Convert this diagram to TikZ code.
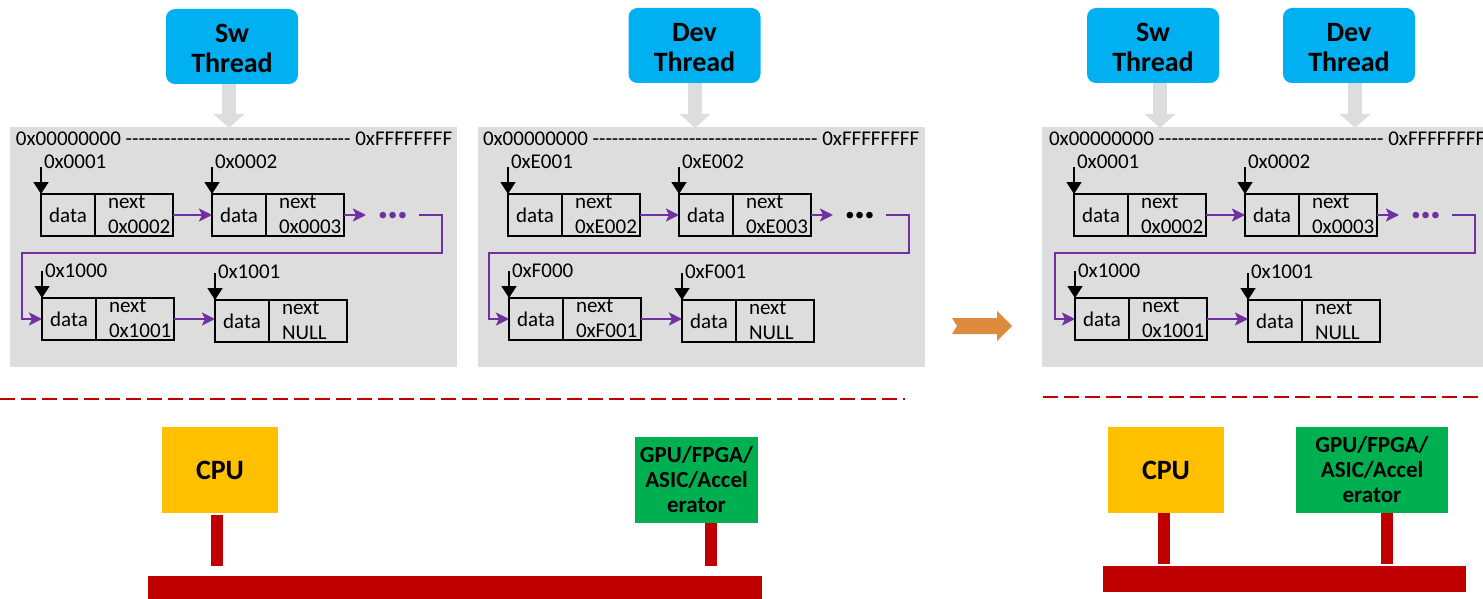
\documentclass[tikz,border=0pt]{standalone}
\usepackage{fontspec}
\setmainfont{Carlito}[Ligatures=TeXOff]
\usetikzlibrary{arrows.meta,calc}

\definecolor{panelgray}{HTML}{DDDDDD}
\definecolor{threadblue}{HTML}{00B0F0}
\definecolor{linkpurple}{HTML}{7030A0}
\definecolor{busred}{HTML}{C00000}
\definecolor{cpuyellow}{HTML}{FFC000}
\definecolor{accgreen}{HTML}{00B050}
\definecolor{steporange}{HTML}{DD8C3E}

\newcommand\txtfont{\fontsize{21}{25}\selectfont}
\newcommand\threadfont{\fontsize{28}{30}\selectfont\bfseries}
\newcommand\cpufont{\fontsize{28}{30}\selectfont\bfseries}
\newcommand\accfont{\fontsize{23}{25}\selectfont\bfseries}
\newcommand\ellfont{\fontsize{44}{44}\selectfont\bfseries}

\tikzset{
  x=1pt, y=-1pt,
  txt/.style={font=\txtfont, inner sep=0pt, outer sep=0pt},
  cell/.style={draw=black, line width=1.8pt, minimum height=42pt, inner sep=0pt, outer sep=0pt, font=\txtfont},
  addr/.style={draw=black, line width=1.8pt, -{Triangle[length=12pt,width=15pt]}},
  link/.style={draw=linkpurple, line width=2.4pt},
  linkarrow/.style={link, -{Stealth[length=13pt,width=13pt,inset=3pt]}},
  panel/.style={fill=panelgray, inner sep=0pt, outer sep=0pt, anchor=north west},
  thread/.style={fill=threadblue, rounded corners=9pt, minimum width=132pt, minimum height=75pt,
                 align=center, font=\threadfont, inner sep=0pt, text height=53pt, text depth=0pt},
  feed/.style={draw=panelgray, line width=14pt, -{Triangle[length=14pt,width=30pt]}},
  unit/.style={inner sep=0pt, outer sep=0pt, align=center},
  stem/.style={draw=busred, line width=12pt},
  bus/.style={fill=busred, inner sep=0pt, outer sep=0pt},
  sep/.style={draw=busred, line width=2.2pt, dash pattern=on 15pt off 6pt},
}

% one list element: data cell, next cell, address label and pointer
% #1 name, #2 x, #3 y (top), #4 address, #5 next value, #6 label gap
\newcommand\cellpair[6]{%
  \node[cell, minimum width=54pt, anchor=north west] (#1d) at (#2,#3) {data};
  \node[cell, minimum width=78pt, anchor=north west] (#1n) at (#1d.north east) {};
  \node[txt, anchor=base west] (#1t) at ($(#1n.north west)+(13,14)$) {next};
  \node[txt, anchor=base west] (#1v) at ($(#1n.north west)+(13,39)$) {#5};
  \node[txt, anchor=base west] (#1l) at ($(#1d.north west)+(3,-#6)$) {#4};
  \coordinate (#1p) at ($(#1d.north west)+(0,-27)$);
  \draw[addr] (#1p) -- (#1d.north west);
}

% a linked list in one address space
% #1 prefix, #2 x of first element, #3 ellipsis colour,
% #4 addr A, #5 addr B, #6 next of B, #7 addr C, #8 addr D
\newcommand\memlist[8]{%
  \node[txt, anchor=base west] (#1h) at (#2-25,146)
    {0x00000000 ----------------------------------- 0xFFFFFFFF};
  \cellpair{#1A}{#2}{194}{#4}{#5}{26}
  \cellpair{#1B}{#2+171}{194}{#5}{#6}{26}
  \cellpair{#1C}{#2+1}{298}{#7}{#8}{21}
  \cellpair{#1D}{#2+174}{300}{#8}{NULL}{22}
  \node[inner sep=0pt, font=\ellfont, text=#3] (#1dots) at (#2+352,216) {…};
  \coordinate (#1tip) at (#2+325,215);
  \coordinate (#1s) at (#2+378,215);
  \coordinate (#1r) at (#2+401,253);
  \coordinate (#1lp) at (#2-19,253);
  \draw[linkarrow] (#1An.east) -- (#1Bd.west);
  \draw[linkarrow] (#1Bn.east) -- (#1tip);
  \draw[linkarrow] (#1s) -| (#1r) -- (#1lp) |- (#1Cd.west);
  \draw[linkarrow] (#1Cn.east) -- (#1Cn.east -| #1Dd.west);
}

\begin{document}
\begin{tikzpicture}
\useasboundingbox (0,0) rectangle (1483,599);

% address-space panels
\node[panel, minimum width=447pt, minimum height=240pt] (p1) at (10,127) {};
\node[panel, minimum width=447pt, minimum height=240pt] (p2) at (478,127) {};
\node[panel, minimum width=441pt, minimum height=240pt] (p3) at (1042,127) {};

% threads
\node[thread] (sw1)  at (232,46.5) {Sw\\Thread};
\node[thread] (dev1) at (694.5,45.5) {Dev\\Thread};
\node[thread] (sw2)  at (1153,45.5) {Sw\\Thread};
\node[thread] (dev2) at (1349,45.5) {Dev\\Thread};

\draw[feed] ($(sw1.south)+(-3,0)$) -- ($(sw1.south |- p1.north)+(-3,1)$);
\draw[feed] ($(dev1.south)+(0.5,0)$) -- ($(dev1.south |- p2.north)+(0.5,1)$);
\draw[feed] ($(sw2.south)+(7,0)$) -- ($(sw2.south |- p3.north)+(7,1)$);
\draw[feed] ($(dev2.south)+(6,0)$) -- ($(dev2.south |- p3.north)+(6,1)$);

% linked lists
\memlist{pa}{41}{linkpurple}{0x0001}{0x0002}{0x0003}{0x1000}{0x1001}
\memlist{pb}{508}{black}{0xE001}{0xE002}{0xE003}{0xF000}{0xF001}
\memlist{pc}{1074}{linkpurple}{0x0001}{0x0002}{0x0003}{0x1000}{0x1001}

% transition arrow
\fill[steporange] (952,318) -- (997,318) -- (997,311) -- (1012,326) -- (997,341)
  -- (997,334) -- (952,334) -- (957,326) -- cycle;

% hardware / software boundary
\coordinate (sepa) at (0,399);
\coordinate (sepb) at (905,399);
\coordinate (sepc) at (1043,397);
\coordinate (sepd) at (1483,397);
\draw[sep] (sepa) -- (sepb);
\draw[sep] (sepc) -- (sepd);

% hardware, left system
\node[unit, fill=cpuyellow, minimum width=116pt, minimum height=86pt, font=\cpufont] (cpu1) at (220,470) {CPU};
\node[unit, fill=accgreen, minimum width=123pt, minimum height=86pt, font=\accfont] (acc1) at (696.5,480) {GPU/FPGA/\\ASIC/Accel\\erator};
\node[bus, minimum width=614pt, minimum height=23pt] (bus1) at (455,587.5) {};
\draw[stem] ($(cpu1.south)+(-3,2)$) -- ($(cpu1.south |- bus1.north)+(-3,-10)$);
\draw[stem] ($(acc1.south)+(14,0)$) -- ($(acc1.south |- bus1.north)+(14,-10)$);

% hardware, right system
\node[unit, fill=cpuyellow, minimum width=116pt, minimum height=86pt, font=\cpufont] (cpu2) at (1166,470) {CPU};
\node[unit, fill=accgreen, minimum width=152pt, minimum height=86pt, font=\accfont] (acc2) at (1372,470) {GPU/FPGA/\\ASIC/Accel\\erator};
\node[bus, minimum width=363pt, minimum height=26pt] (bus2) at (1284.5,579) {};
\draw[stem] ($(cpu2.south)+(-2.5,0)$) -- ($(cpu2.south |- bus2.north)+(-2.5,-2)$);
\draw[stem] ($(acc2.south)+(15,0)$) -- ($(acc2.south |- bus2.north)+(15,-2)$);
\end{tikzpicture}
\end{document}
